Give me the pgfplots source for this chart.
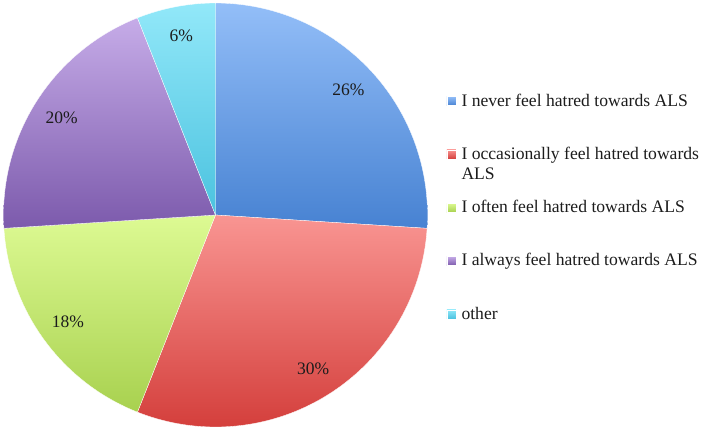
\documentclass[border=0pt]{standalone}
\usepackage{pgfplots}
\pgfplotsset{compat=1.18}
\usepackage{fontspec}
\setmainfont{Liberation Serif}
\definecolor{bluT}{HTML}{93BEF8}
\definecolor{bluB}{HTML}{4782D2}
\definecolor{redT}{HTML}{F99592}
\definecolor{redB}{HTML}{D43F3C}
\definecolor{grnT}{HTML}{DDFA93}
\definecolor{grnB}{HTML}{A8D14F}
\definecolor{purT}{HTML}{C6ACE8}
\definecolor{purB}{HTML}{7C5AAC}
\definecolor{cyaT}{HTML}{92E8F9}
\definecolor{cyaB}{HTML}{4BC2DF}
\definecolor{txt}{HTML}{1C1C1C}
% values (percent)
\def\va{26}\def\vb{30}\def\vc{18}\def\vd{20}\def\ve{6}
\pgfmathsetmacro{\aA}{90}
\pgfmathsetmacro{\aB}{\aA-3.6*\va}
\pgfmathsetmacro{\aC}{\aB-3.6*\vb}
\pgfmathsetmacro{\aD}{\aC-3.6*\vc}
\pgfmathsetmacro{\aE}{\aD-3.6*\vd}
\pgfmathsetmacro{\aF}{\aE-3.6*\ve}
\newcommand{\plab}[3]{% start, end, value
  \pgfmathsetmacro{\mx}{0.86*cos((#1+#2)/2)}%
  \pgfmathsetmacro{\my}{0.86*sin((#1+#2)/2)}%
  \edef\tmp{\noexpand\node[txt,font=\noexpand\fontsize{17.5bp}{20bp}\noexpand\selectfont] at (axis cs:\mx,\my) {#3\noexpand\%};}%
  \tmp}
\begin{document}
\begin{tikzpicture}
\useasboundingbox (-215.5bp,-218bp) rectangle (493.5bp,215bp);
\begin{axis}[
  at={(0,0)}, anchor=center,
  scale only axis, width=424bp, height=424bp,
  xmin=-1, xmax=1, ymin=-1, ymax=1,
  hide axis, clip=false,
  legend style={at={(1.0453,0.7877)}, anchor=north west, draw=none, fill=none,
    inner sep=0pt, outer sep=0pt, row sep=36.3bp, column sep=5.5bp,
    font=\fontsize{17.6bp}{20.5bp}\selectfont, text=txt,
    nodes={inner sep=0pt, outer sep=0pt, text height=13bp, text depth=4bp, anchor=base west}},
  legend cell align=left,
  legend image code/.code={\path[#1] (0bp,0.5bp) rectangle (9bp,9.5bp);},
]
\addplot[draw=white, line width=0.3pt, top color=bluT, bottom color=bluB, domain=\aB:\aA, samples=80]
  ({cos(x)},{sin(x)}) -- (axis cs:0,0) -- cycle;
\addlegendentry{I never feel hatred towards ALS}
\addplot[draw=white, line width=0.3pt, top color=redT, bottom color=redB, domain=\aC:\aB, samples=80]
  ({cos(x)},{sin(x)}) -- (axis cs:0,0) -- cycle;
\addlegendentry{\begin{tabular}[t]{@{}l@{}}I occasionally feel hatred towards\\ALS\end{tabular}}
\addplot[draw=white, line width=0.3pt, top color=grnT, bottom color=grnB, domain=\aD:\aC, samples=80]
  ({cos(x)},{sin(x)}) -- (axis cs:0,0) -- cycle;
\addlegendentry{I often feel hatred towards ALS}
\addplot[draw=white, line width=0.3pt, top color=purT, bottom color=purB, domain=\aE:\aD, samples=80]
  ({cos(x)},{sin(x)}) -- (axis cs:0,0) -- cycle;
\addlegendentry{I always feel hatred towards ALS}
\addplot[draw=white, line width=0.3pt, top color=cyaT, bottom color=cyaB, domain=\aF:\aE, samples=40]
  ({cos(x)},{sin(x)}) -- (axis cs:0,0) -- cycle;
\addlegendentry{other}
\plab{\aA}{\aB}{\va}
\plab{\aB}{\aC}{\vb}
\plab{\aC}{\aD}{\vc}
\plab{\aD}{\aE}{\vd}
\plab{\aE}{\aF}{\ve}
\end{axis}
\end{tikzpicture}
\end{document}
